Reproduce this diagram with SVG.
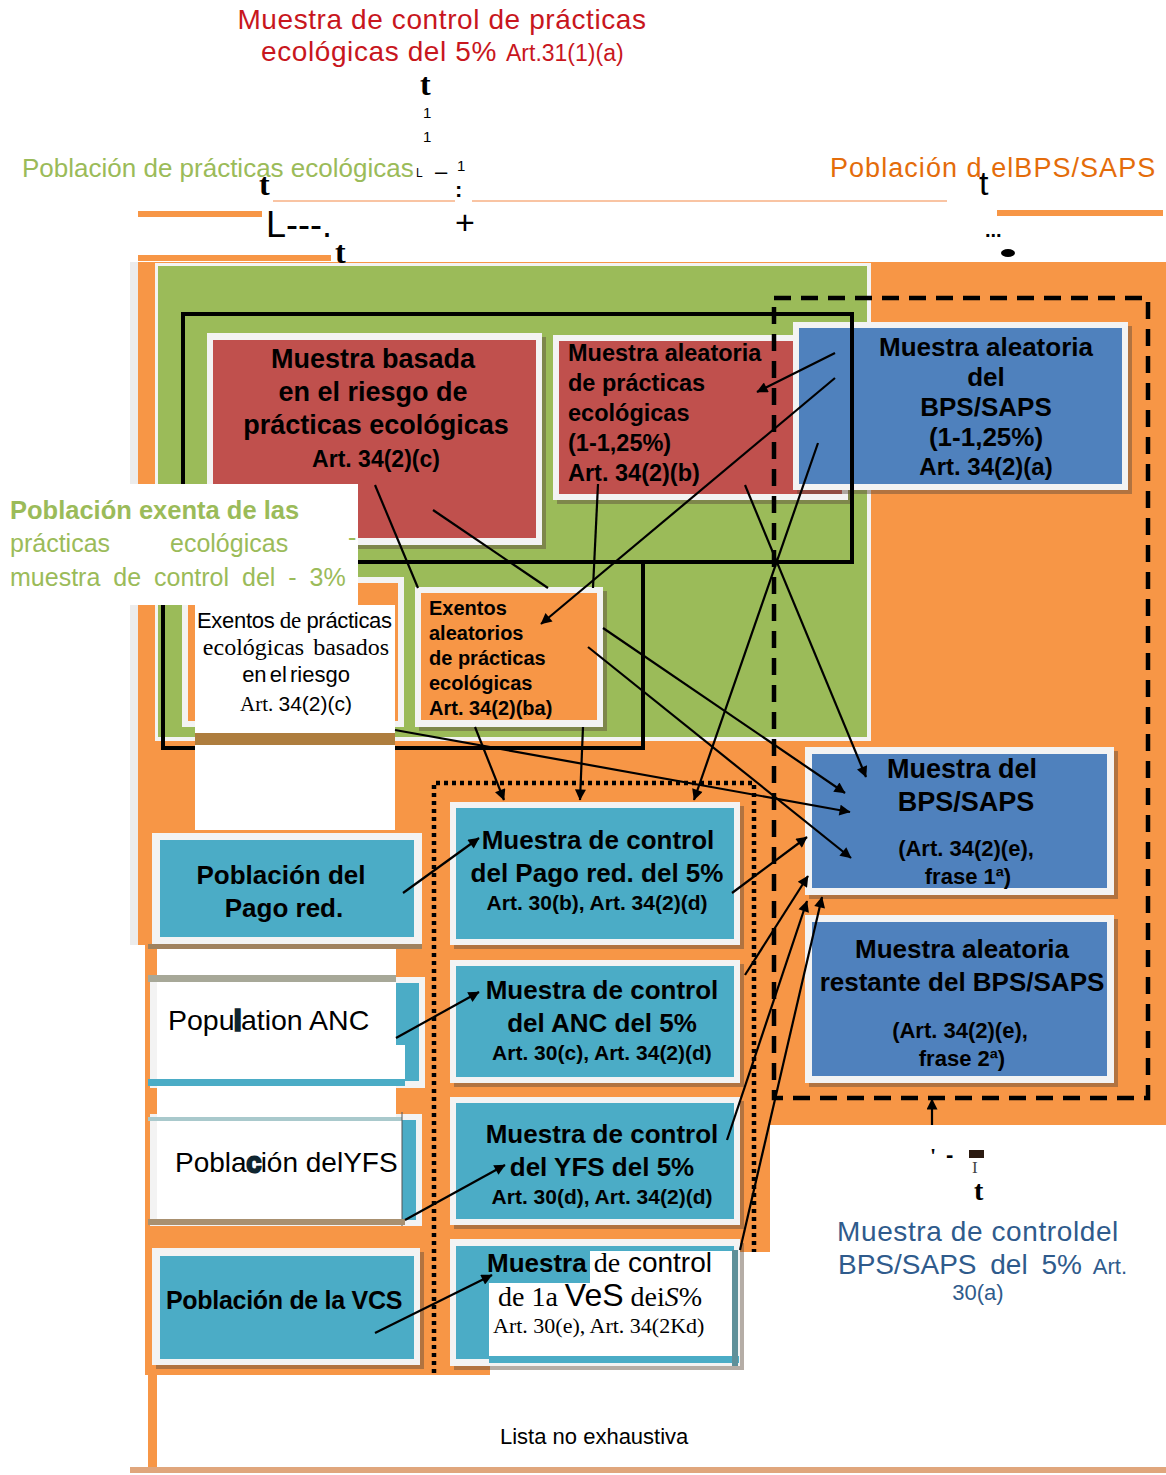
<svg xmlns="http://www.w3.org/2000/svg" width="1166" height="1475" viewBox="0 0 1166 1475">
<defs>
<marker id="ah" viewBox="0 0 10 10" refX="9.5" refY="5" markerWidth="14" markerHeight="11" markerUnits="userSpaceOnUse" orient="auto"><path d="M0,0 L10,5 L0,10 z" fill="#000"/></marker>
</defs>
<style>
.sa{font-family:"Liberation Sans",Arial,sans-serif}
.se{font-family:"Liberation Serif","Times New Roman",serif}
.b{font-weight:bold}
.k{fill:#000}
.bd{fill:#f3f3f3}
.sh{fill:#5a4a3a;opacity:.45}
.red{fill:#c0504d}
.blu{fill:#4f81bd}
.tea{fill:#4bacc6}
.org{fill:#f79646}
.grn{fill:#9bbb59}
.wh{fill:#ffffff}
.cn line{stroke:#000;stroke-width:2.2;fill:none}
.ar{marker-end:url(#ah)}
</style>
<rect x="0" y="0" width="1166" height="1475" fill="#fff"/>

<g id="background">
<path class="org" d="M138,262 H1166 V1125 H770 V1252 H490 V1375 H145 V945 H138 Z"/>
<rect x="130" y="262" width="8" height="683" fill="#ececec"/>
<rect class="org" x="148" y="945" width="9" height="525"/>
<rect x="130" y="1467" width="1036" height="6" fill="#e0a67c"/>
<rect class="bd" x="155" y="263" width="716" height="478"/>
<rect class="grn" x="158" y="266" width="709" height="471"/>
</g>

<g id="node-basada">
<rect class="sh" x="211" y="337" width="335" height="212"/>
<rect class="bd" x="207" y="333" width="335" height="212"/>
<rect class="red" x="213" y="340" width="323" height="198"/>
<text class="sa b k" text-anchor="middle" font-size="27"><tspan x="373" y="368">Muestra basada</tspan><tspan x="373" y="401">en el riesgo de</tspan><tspan x="376" y="434">prácticas ecológicas</tspan><tspan x="376" y="467" font-size="23">Art. 34(2)(c)</tspan></text>
</g>

<g id="node-aleatoria-pe">
<rect class="sh" x="557" y="339" width="295" height="165"/>
<rect class="bd" x="553" y="335" width="295" height="165"/>
<rect class="red" x="559" y="341" width="283" height="153"/>
<text class="sa b k" font-size="23.5"><tspan x="568" y="361">Muestra aleatoria</tspan><tspan x="568" y="391">de prácticas</tspan><tspan x="568" y="421">ecológicas</tspan><tspan x="568" y="451">(1-1,25%)</tspan><tspan x="568" y="481">Art. 34(2)(b)</tspan></text>
</g>

<g id="node-aleatoria-bps">
<rect class="sh" x="797" y="326" width="335" height="168"/>
<rect class="bd" x="793" y="322" width="335" height="168"/>
<rect class="blu" x="799" y="328" width="323" height="156"/>
<text class="sa b k" text-anchor="middle" font-size="26"><tspan x="986" y="356">Muestra aleatoria</tspan><tspan x="986" y="386">del</tspan><tspan x="986" y="416">BPS/SAPS</tspan><tspan x="986" y="446">(1-1,25%)</tspan><tspan x="986" y="475" font-size="24">Art. 34(2)(a)</tspan></text>
</g>

<g id="frames">
<rect x="183" y="314" width="669" height="248" fill="none" stroke="#000" stroke-width="4"/>
<rect x="163" y="562" width="480" height="186" fill="none" stroke="#000" stroke-width="4"/>
<rect x="774" y="298" width="374" height="800" fill="none" stroke="#000" stroke-width="4.5" stroke-dasharray="17 10"/>
</g>

<g id="node-exentos-riesgo">
<rect class="bd" x="182" y="577" width="222" height="150"/>
<rect class="org" x="188" y="583" width="210" height="138"/>
<rect class="wh" x="195" y="605" width="200" height="225"/>
<rect x="195" y="733" width="200" height="12" fill="#ae7d3e"/>
<text class="sa k" x="197" y="628" font-size="22" letter-spacing="-0.3">Exentos<tspan class="se" font-size="23"> de </tspan>prácticas</text>
<text class="se k" x="296" y="655" font-size="24" text-anchor="middle" word-spacing="3">ecológicas basados</text>
<text class="sa k" x="296" y="682" font-size="22" text-anchor="middle" word-spacing="-3">en el riesgo</text>
<text class="k" x="296" y="711" font-size="21" text-anchor="middle"><tspan class="se">Art. </tspan><tspan class="sa">34(2)(c)</tspan></text>
</g>

<g id="node-exentos-aleatorios">
<rect class="sh" x="419" y="591" width="188" height="140"/>
<rect class="bd" x="415" y="587" width="188" height="140"/>
<rect class="org" x="421" y="593" width="176" height="127"/>
<text class="sa b k" font-size="20"><tspan x="429" y="615">Exentos</tspan><tspan x="429" y="640">aleatorios</tspan><tspan x="429" y="665">de prácticas</tspan><tspan x="429" y="690">ecológicas</tspan><tspan x="429" y="715">Art. 34(2)(ba)</tspan></text>
</g>

<g id="label-exenta">
<rect class="wh" x="0" y="484" width="358" height="121"/>
<text class="sa b" x="10" y="519" font-size="25.5" fill="#9bbb59">Población exenta de las</text>
<text class="sa" y="552" font-size="25" fill="#9bbb59"><tspan x="10">prácticas</tspan><tspan x="170">ecológicas</tspan><tspan x="348" y="546">-</tspan></text>
<text class="sa" x="10" y="586" font-size="25" fill="#9bbb59" word-spacing="6">muestra de control del - 3%</text>
</g>

<path d="M434,1373 V783 H754 V1252" fill="none" stroke="#000" stroke-width="4.5" stroke-dasharray="4 4"/>

<g id="node-muestra-pago">
<rect class="sh" x="454" y="806" width="290" height="143"/>
<rect class="bd" x="450" y="802" width="290" height="143"/>
<rect class="tea" x="456" y="808" width="278" height="131"/>
<text class="sa b k" text-anchor="middle" font-size="26"><tspan x="598" y="849">Muestra de control</tspan><tspan x="597" y="882">del Pago red. del 5%</tspan><tspan x="597" y="910" font-size="21">Art. 30(b), Art. 34(2)(d)</tspan></text>
</g>

<g id="node-muestra-anc">
<rect class="sh" x="454" y="964" width="290" height="123"/>
<rect class="bd" x="450" y="960" width="290" height="123"/>
<rect class="tea" x="456" y="966" width="278" height="111"/>
<text class="sa b k" text-anchor="middle" font-size="26"><tspan x="602" y="999">Muestra de control</tspan><tspan x="602" y="1032">del ANC del 5%</tspan><tspan x="602" y="1060" font-size="21">Art. 30(c), Art. 34(2)(d)</tspan></text>
</g>

<g id="node-muestra-yfs">
<rect class="sh" x="454" y="1101" width="290" height="128"/>
<rect class="bd" x="450" y="1097" width="290" height="128"/>
<rect class="tea" x="456" y="1103" width="278" height="116"/>
<text class="sa b k" text-anchor="middle" font-size="26"><tspan x="602" y="1143">Muestra de control</tspan><tspan x="602" y="1176">del YFS del 5%</tspan><tspan x="602" y="1204" font-size="21">Art. 30(d), Art. 34(2)(d)</tspan></text>
</g>

<g id="node-muestra-vcs">
<rect class="sh" x="454" y="1243" width="290" height="127"/>
<rect class="bd" x="450" y="1239" width="290" height="127"/>
<rect class="tea" x="456" y="1246" width="278" height="113"/>
<path class="wh" d="M590,1251 H735 V1357 H489 V1283 H590 Z"/>
<rect class="tea" x="489" y="1356" width="250" height="7"/>
<rect x="732" y="1250" width="6" height="116" fill="#5f9099"/>
<text class="k" x="487" y="1272"><tspan class="sa b" font-size="26">Muestra</tspan><tspan class="se" font-size="28"> de</tspan><tspan class="sa" font-size="28"> control</tspan></text>
<text class="k" x="498" y="1306"><tspan class="se" font-size="28">de 1a </tspan><tspan class="sa" font-size="32">VeS</tspan><tspan class="se" font-size="28"> dei<tspan font-style="italic">S</tspan>%</tspan></text>
<text class="se k" x="493" y="1333" font-size="22">Art. 30(e), Art. 34(2Kd)</text>
</g>

<g id="node-pob-pago">
<rect class="bd" x="152" y="833" width="270" height="112"/>
<rect class="tea" x="160" y="840" width="254" height="97"/>
<rect x="148" y="944" width="274" height="5" fill="#a0825f"/>
<text class="sa b k" text-anchor="middle" font-size="26"><tspan x="281" y="884">Población del</tspan><tspan x="284" y="917">Pago red.</tspan></text>
</g>

<g id="node-pob-anc">
<rect class="bd" x="150" y="977" width="275" height="111"/>
<rect class="tea" x="158" y="983" width="261" height="98"/>
</g>
<g id="node-pob-yfs">
<rect class="bd" x="150" y="1114" width="272" height="112"/>
<rect class="tea" x="158" y="1120" width="258" height="100"/>
</g>
<g id="left-overlays">
<rect class="wh" x="157" y="949" width="239" height="270"/>
<rect class="wh" x="396" y="1045" width="9" height="35"/>
<rect class="wh" x="396" y="1121" width="6" height="99"/>
<rect x="148" y="975" width="248" height="7" fill="#a7a898"/>
<rect class="tea" x="148" y="1079" width="257" height="7"/>
<rect x="148" y="1117" width="254" height="4" fill="#a9c9cc"/>
<line x1="402" y1="1112" x2="402" y2="1226" stroke="#555" stroke-width="1"/>
<rect x="148" y="1219" width="257" height="6" fill="#a89070"/>
<text class="sa k" x="168" y="1030" font-size="28.5">Popu<tspan stroke="#0f2530" stroke-width="3.5" fill="#0f2530">l</tspan>ation ANC</text>
<text class="sa k" x="175" y="1172" font-size="28">Pobla<tspan stroke="#0f2530" stroke-width="3" fill="#0f2530">c</tspan>ión delYFS</text>
</g>

<g id="node-pob-vcs">
<rect class="sh" x="156" y="1252" width="268" height="117"/>
<rect class="bd" x="152" y="1248" width="268" height="117"/>
<rect class="tea" x="160" y="1256" width="254" height="103"/>
<text class="sa b k" x="166" y="1309" font-size="25" letter-spacing="-0.3">Población de la VCS</text>
</g>

<g id="node-muestra-bps">
<rect class="sh" x="809" y="751" width="309" height="148"/>
<rect class="bd" x="805" y="747" width="309" height="148"/>
<rect class="blu" x="812" y="754" width="295" height="134"/>
<text class="sa b k" text-anchor="middle" font-size="27"><tspan x="962" y="778">Muestra del</tspan><tspan x="966" y="811">BPS/SAPS</tspan><tspan x="966" y="856" font-size="22">(Art. 34(2)(e),</tspan><tspan x="968" y="884" font-size="22">frase 1ª)</tspan></text>
</g>

<g id="node-restante-bps">
<rect class="sh" x="809" y="919" width="309" height="168"/>
<rect class="bd" x="805" y="915" width="309" height="168"/>
<rect class="blu" x="812" y="922" width="295" height="154"/>
<text class="sa b k" text-anchor="middle" font-size="26"><tspan x="962" y="958">Muestra aleatoria</tspan><tspan x="962" y="991">restante del BPS/SAPS</tspan><tspan x="960" y="1038" font-size="22">(Art. 34(2)(e),</tspan><tspan x="962" y="1066" font-size="22">frase 2ª)</tspan></text>
</g>

<g id="connectors" class="cn">
<line class="ar" x1="835" y1="353" x2="757" y2="392"/>
<line class="ar" x1="835" y1="378" x2="541" y2="624"/>
<line class="ar" x1="818" y1="443" x2="694" y2="800"/>
<line x1="375" y1="485" x2="418" y2="588"/>
<line x1="433" y1="510" x2="548" y2="588"/>
<line x1="598" y1="484" x2="593" y2="588"/>
<line class="ar" x1="745" y1="485" x2="866" y2="777"/>
<line class="ar" x1="603" y1="628" x2="845" y2="793"/>
<line class="ar" x1="395" y1="730" x2="850" y2="812"/>
<line class="ar" x1="588" y1="647" x2="851" y2="858"/>
<line class="ar" x1="475" y1="727" x2="504" y2="800"/>
<line class="ar" x1="583" y1="727" x2="580" y2="800"/>
<line class="ar" x1="403" y1="893" x2="479" y2="838"/>
<line class="ar" x1="396" y1="1038" x2="479" y2="992"/>
<line class="ar" x1="405" y1="1220" x2="505" y2="1165"/>
<line class="ar" x1="375" y1="1333" x2="492" y2="1275"/>
<line class="ar" x1="732" y1="893" x2="807" y2="837"/>
<line class="ar" x1="745" y1="975" x2="808" y2="876"/>
<line class="ar" x1="727" y1="1140" x2="807" y2="901"/>
<line class="ar" x1="740" y1="1250" x2="822" y2="897"/>
<line class="ar" x1="932" y1="1125" x2="932" y2="1099"/>
</g>

<g id="top-labels">
<text class="sa" x="442" y="29" font-size="28" letter-spacing="0.6" fill="#c8161d" text-anchor="middle">Muestra de control de prácticas</text>
<text class="sa" x="261" y="61" font-size="28" letter-spacing="0.6" fill="#c8161d">ecológicas del 5%<tspan x="506" font-size="23" letter-spacing="0">Art.31(1)(a)</tspan></text>
<text class="se b k" x="420" y="95" font-size="32">t</text>
<text class="sa k" x="423" y="118" font-size="15">1</text>
<text class="sa k" x="423" y="142" font-size="15">1</text>
<text class="sa" x="22" y="177" font-size="26" fill="#9bbb59">Población de prácticas ecológicas</text>
<text class="sa k" x="416" y="177" font-size="12">L</text>
<text class="sa k" x="435" y="179" font-size="22">–</text>
<text class="sa k" x="457" y="171" font-size="15">1</text>
<text class="sa b k" x="455" y="197" font-size="22">:</text>
<text class="se b k" x="259" y="195" font-size="32">t</text>
<line x1="273" y1="201" x2="455" y2="201" stroke="#f7b084" stroke-width="1.3"/>
<line x1="472" y1="201" x2="947" y2="201" stroke="#f7b084" stroke-width="1.3"/>
<rect class="org" x="138" y="211" width="124" height="6"/>
<text class="sa k" x="266" y="237" font-size="36">L---.</text>
<text class="sa k" x="455" y="234" font-size="34">+</text>
<rect class="org" x="138" y="255" width="193" height="6"/>
<text class="se b k" x="335" y="263" font-size="32">t</text>
<text class="sa" x="830" y="177" font-size="27" letter-spacing="1.05" fill="#e46c0a">Población d elBPS/SAPS</text>
<text class="sa k" x="979" y="195" font-size="34">t</text>
<rect class="org" x="997" y="210" width="166" height="6"/>
<text class="sa b k" x="985" y="237" font-size="20">...</text>
<ellipse cx="1008" cy="253" rx="7" ry="4" fill="#000"/>
</g>

<g id="bottom-labels">
<text class="se b k" x="930" y="1163" font-size="22">'</text>
<text class="sa b k" x="946" y="1162" font-size="22">-</text>
<rect x="969" y="1150" width="15" height="8" fill="#2b1a10"/>
<text class="se" x="972" y="1173" font-size="17" fill="#444">I</text>
<text class="se b k" x="974" y="1200" font-size="28">t</text>
<text class="sa" x="978" y="1241" font-size="28" letter-spacing="0.6" fill="#2f5b8c" text-anchor="middle">Muestra de controldel</text>
<text class="sa" x="838" y="1274" font-size="28" fill="#2f5b8c" word-spacing="6">BPS/SAPS del 5%<tspan font-size="22"> Art.</tspan></text>
<text class="sa" x="978" y="1300" font-size="22" fill="#2f5b8c" text-anchor="middle">30(a)</text>
<text class="sa k" x="500" y="1444" font-size="22">Lista no exhaustiva</text>
</g>
</svg>
